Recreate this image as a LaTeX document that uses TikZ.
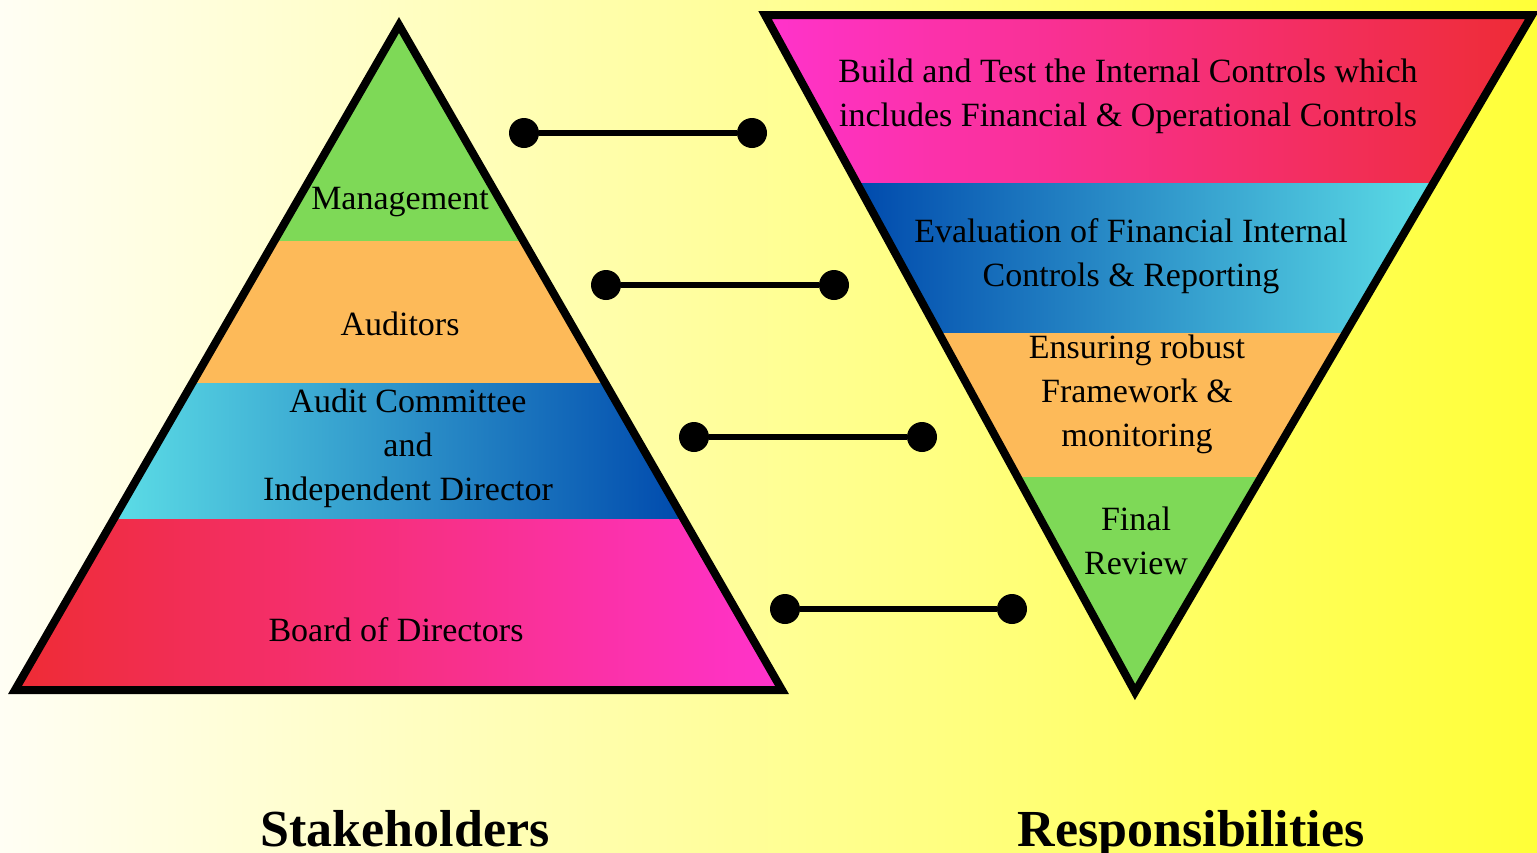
\documentclass[tikz,border=0pt]{standalone}
\usepackage{fontspec}
\setmainfont{Liberation Serif}
\usetikzlibrary{calc}
\definecolor{bgL}{HTML}{FFFEF4}
\definecolor{bgR}{HTML}{FFFF38}
\definecolor{bandGreen}{HTML}{7ED957}
\definecolor{bandOrange}{HTML}{FDBA59}
\definecolor{bandRed}{HTML}{EE2C34}
\definecolor{bandPink}{HTML}{FF33CC}
\definecolor{bandCyan}{HTML}{5CDDE6}
\definecolor{bandBlue}{HTML}{004AAD}
\begin{document}
\begin{tikzpicture}[x=0.5pt,y=-0.5pt,
  lbl/.style={font=\fontsize{17}{22}\selectfont, align=center, inner sep=0pt, text=black},
  heading/.style={font=\fontsize{26}{30}\selectfont\bfseries, inner sep=0pt, anchor=base},
  dot/.style={circle, fill=black, minimum size=15pt, inner sep=0pt},
  link/.style={line width=3pt},
  frame/.style={draw=black, line width=4pt, line join=miter}]
\useasboundingbox (0,0) rectangle (1537,852);
\shade[left color=bgL, right color=bgR] (0,0) rectangle (1537,852);

% ---- stakeholder pyramid ----
\fill[bandGreen] (399,25) -- (274.3,241) -- (523.4,241) -- cycle;
\fill[bandOrange] (274.3,241) -- (523.4,241) -- (605.2,383) -- (192.3,383) -- cycle;
\shade[left color=bandCyan, right color=bandBlue] (192.3,383) -- (605.2,383) -- (683.5,519) -- (113.7,519) -- cycle;
\shade[left color=bandRed, right color=bandPink] (113.7,519) -- (683.5,519) -- (782,690) -- (15,690) -- cycle;
\draw[frame] (399,25) -- (782,690) -- (15,690) -- cycle;

\node[lbl] (mgmt) at (400,202) {Management};
\node[lbl] (aud) at (400,324) {Auditors};
\node[lbl] (ac) at (408,448) {Audit Committee\\and\\Independent Director};
\node[lbl] (bod) at (396,630) {Board of Directors};

% ---- responsibility funnel ----
\shade[left color=bandPink, right color=bandRed] (765,15) -- (1532,15) -- (1433.5,183) -- (856.8,183) -- cycle;
\shade[left color=bandBlue, right color=bandCyan] (856.8,183) -- (1433.5,183) -- (1345.5,333) -- (938.8,333) -- cycle;
\fill[bandOrange] (938.8,333) -- (1345.5,333) -- (1261.1,477) -- (1017.5,477) -- cycle;
\fill[bandGreen] (1017.5,477) -- (1261.1,477) -- (1135,692) -- cycle;
\draw[frame] (765,15) -- (1532,15) -- (1135,692) -- cycle;

\node[lbl] (build) at (1128,96) {Build and Test the Internal Controls which\\includes Financial \& Operational Controls};
\node[lbl] (eval) at (1131,256) {Evaluation of Financial Internal\\Controls \& Reporting};
\node[lbl] (frame) at (1137,394) {Ensuring robust\\Framework \&\\monitoring};
\node[lbl] (final) at (1136,541) {Final\\Review};

% ---- connectors ----
\node[dot] (a1) at (524,133) {};
\node[dot] (b1) at (752,133) {};
\node[dot] (a2) at (606,285) {};
\node[dot] (b2) at (834,285) {};
\node[dot] (a3) at (694,437) {};
\node[dot] (b3) at (922,437) {};
\node[dot] (a4) at (785,609) {};
\node[dot] (b4) at (1012,609) {};
\draw[link] (a1) -- (b1);
\draw[link] (a2) -- (b2);
\draw[link] (a3) -- (b3);
\draw[link] (a4) -- (b4);

% ---- headings ----
\node[heading] (stake) at (405,846) {Stakeholders};
\node[heading] (resp) at (1191,846) {Responsibilities};
\end{tikzpicture}
\end{document}
